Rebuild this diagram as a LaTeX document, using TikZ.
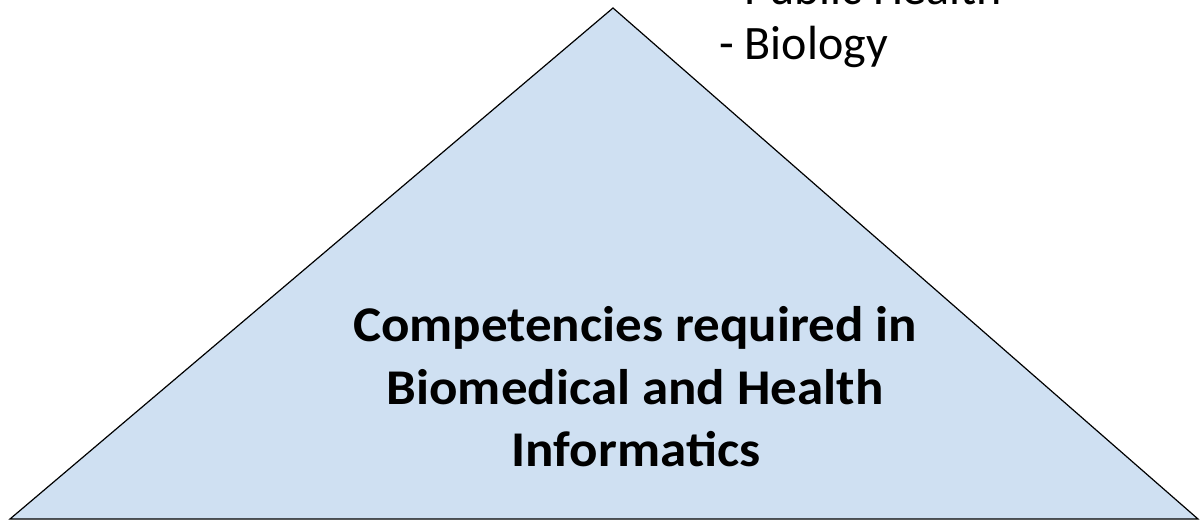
\documentclass[tikz,border=0pt]{standalone}
\usepackage{fontspec}
\setmainfont{Carlito}
\newfontfamily\titlefont[FakeStretch=1.06]{Carlito}
\definecolor{tri}{HTML}{CFE0F2}
\begin{document}
\begin{tikzpicture}[x=1pt,y=-1pt,
  lbl/.style={font=\fontsize{48}{55}\selectfont, align=left, inner sep=0pt},
  title/.style={font=\titlefont\fontsize{50}{62}\selectfont\bfseries, align=center, inner sep=0pt}]
\useasboundingbox (0,0) rectangle (1200,521);
\coordinate (apex) at (613,8);
\coordinate (bl) at (10,519);
\coordinate (br) at (1198,519);
\filldraw[fill=tri, draw=black, line width=1.2pt, line join=miter] (apex) -- (br) -- (bl) -- cycle;
\node[lbl, anchor=base west] (ph) at (719,5) {- Public Health};
\node[lbl, anchor=base west] (bio) at (719,60) {- Biology};
\node[title, anchor=base] (t1) at (635,342) {Competencies required in};
\node[title, anchor=base] (t2) at (635,404) {Biomedical and Health};
\node[title, anchor=base] (t3) at (636,466) {Informatics};
\end{tikzpicture}
\end{document}
